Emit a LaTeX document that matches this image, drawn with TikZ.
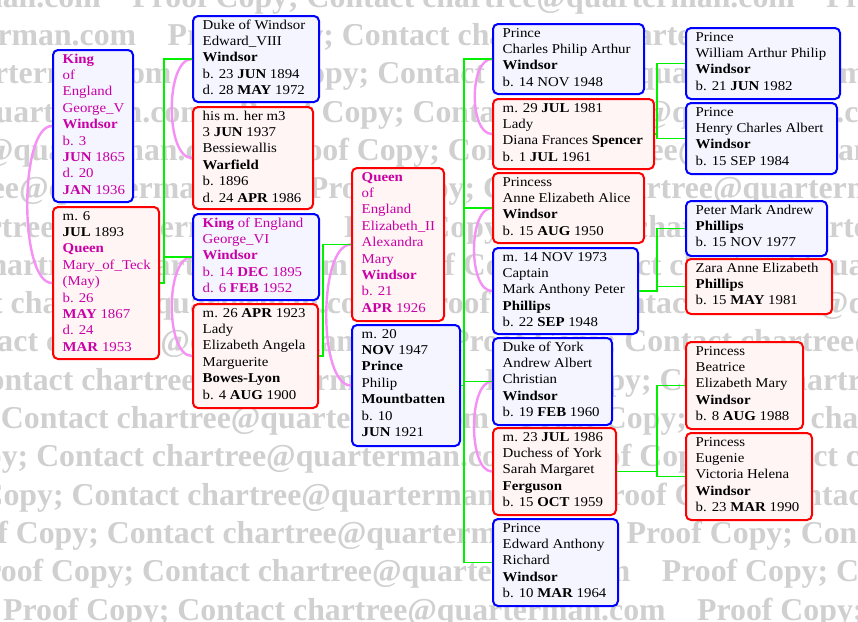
\documentclass[tikz,border=0pt]{standalone}
\usepackage{fontspec}
\setmainfont{Liberation Serif}[FakeStretch=1.1]
\newfontfamily\wmfont{Liberation Serif}
\definecolor{bluec}{RGB}{0,0,255}
\definecolor{bluef}{RGB}{245,245,255}
\definecolor{redc}{RGB}{255,0,0}
\definecolor{redf}{RGB}{255,245,245}
\definecolor{greenc}{RGB}{0,240,0}
\definecolor{pinkc}{RGB}{245,145,245}
\definecolor{magc}{RGB}{200,0,165}
\definecolor{wmgray}{RGB}{208,208,208}
\newcommand\boxfont{\fontsize{13.5}{16.4}\selectfont}
\newcommand\pbox[7]{%
  \node[#2, minimum width=#5pt, minimum height=#6pt, anchor=north west] (#1) at (#3,#4) {};
  \node[anchor=base west, inner sep=0pt] (#1t) at ([shift={(10.5pt,-14pt)}]#1.north west) {\parbox[t]{180pt}{\boxfont\leavevmode #7}};}
\tikzset{
  bbox/.style={draw=bluec, fill=bluef, line width=2pt, rounded corners=5pt, inner sep=0pt},
  rbox/.style={draw=redc, fill=redf, line width=2pt, rounded corners=5pt, inner sep=0pt},
  gline/.style={draw=greenc, line width=1.4pt},
  pline/.style={draw=pinkc, line width=2.4pt},
  wm/.style={text=wmgray, font=\wmfont\bfseries\fontsize{31.8}{38}\selectfont, inner sep=0pt, anchor=base west},
}
\begin{document}
\begin{tikzpicture}[x=1pt,y=-1pt]
\useasboundingbox (0,0) rectangle (858,621);
\fill[white] (0,0) rectangle (858,621);
% watermark
\begin{scope}
\clip (0,0) rectangle (858,621);
\foreach \k in {0,...,16} {
  \pgfmathsetmacro\yy{620-38.3*\k}
  \pgfmathsetmacro\xx{mod(3-35.3*\k+1388,694)}
  \foreach \m in {-1,0,1} {
    \node[wm] (wm\k m\m) at (\xx+694*\m, \yy) {Proof Copy; Contact chartree@quarterman.com};
  }
}
\end{scope}
% boxes
\pbox{k5}{bbox}{52}{49}{80}{152}{\color{magc}\textbf{King}\\of\\England\\George\_V\\\textbf{Windsor}\\b. 3\\\textbf{JUN} 1865\\d. 20\\\textbf{JAN} 1936}
\pbox{qm}{rbox}{52}{206}{106}{152}{m. 6\\\textbf{JUL} 1893\\\color{magc}\textbf{Queen}\\Mary\_of\_Teck\\(May)\\b. 26\\\textbf{MAY} 1867\\d. 24\\\textbf{MAR} 1953}
\pbox{edw}{bbox}{192}{15}{126}{86}{Duke of Windsor\\Edward\_VIII\\\textbf{Windsor}\\b. 23 \textbf{JUN} 1894\\d. 28 \textbf{MAY} 1972}
\pbox{wal}{rbox}{192}{106}{120}{102}{his m. her m3\\3 \textbf{JUN} 1937\\Bessiewallis\\\textbf{Warfield}\\b. 1896\\d. 24 \textbf{APR} 1986}
\pbox{g6}{bbox}{192}{213}{126}{86}{\color{magc}\textbf{King} of England\\George\_VI\\\textbf{Windsor}\\b. 14 \textbf{DEC} 1895\\d. 6 \textbf{FEB} 1952}
\pbox{ebl}{rbox}{192}{303}{125}{104}{m. 26 \textbf{APR} 1923\\Lady\\Elizabeth Angela\\Marguerite\\\textbf{Bowes-Lyon}\\b. 4 \textbf{AUG} 1900}
\pbox{q2}{rbox}{351}{167}{92}{153}{\color{magc}\textbf{Queen}\\of\\England\\Elizabeth\_II\\Alexandra\\Mary\\\textbf{Windsor}\\b. 21\\\textbf{APR} 1926}
\pbox{phi}{bbox}{351}{324}{108}{121}{m. 20\\\textbf{NOV} 1947\\\textbf{Prince}\\Philip\\\textbf{Mountbatten}\\b. 10\\\textbf{JUN} 1921}
\pbox{cha}{bbox}{492}{23}{151}{70}{Prince\\Charles Philip Arthur\\\textbf{Windsor}\\b. 14 NOV 1948}
\pbox{dia}{rbox}{492}{98}{161}{70}{m. 29 \textbf{JUL} 1981\\Lady\\Diana Frances \textbf{Spencer}\\b. 1 \textbf{JUL} 1961}
\pbox{ann}{rbox}{492}{172}{151}{70}{Princess\\Anne Elizabeth Alice\\\textbf{Windsor}\\b. 15 \textbf{AUG} 1950}
\pbox{mar}{bbox}{492}{247}{145}{86}{m. 14 NOV 1973\\Captain\\Mark Anthony Peter\\\textbf{Phillips}\\b. 22 \textbf{SEP} 1948}
\pbox{andr}{bbox}{492}{337}{119}{87}{Duke of York\\Andrew Albert\\Christian\\\textbf{Windsor}\\b. 19 \textbf{FEB} 1960}
\pbox{sar}{rbox}{492}{427}{123}{87}{m. 23 \textbf{JUL} 1986\\Duchess of York\\Sarah Margaret\\\textbf{Ferguson}\\b. 15 \textbf{OCT} 1959}
\pbox{edd}{bbox}{492}{518}{125}{87}{Prince\\Edward Anthony\\Richard\\\textbf{Windsor}\\b. 10 \textbf{MAR} 1964}
\pbox{wil}{bbox}{685}{27}{154}{71}{Prince\\William Arthur Philip\\\textbf{Windsor}\\b. 21 \textbf{JUN} 1982}
\pbox{har}{bbox}{685}{102}{151}{71}{Prince\\Henry Charles Albert\\\textbf{Windsor}\\b. 15 SEP 1984}
\pbox{pet}{bbox}{685}{200}{141}{55}{Peter Mark Andrew\\\textbf{Phillips}\\b. 15 NOV 1977}
\pbox{zar}{rbox}{685}{258}{146}{55}{Zara Anne Elizabeth\\\textbf{Phillips}\\b. 15 \textbf{MAY} 1981}
\pbox{bea}{rbox}{685}{341}{117}{87}{Princess\\Beatrice\\Elizabeth Mary\\\textbf{Windsor}\\b. 8 \textbf{AUG} 1988}
\pbox{eug}{rbox}{685}{432}{126}{87}{Princess\\Eugenie\\Victoria Helena\\\textbf{Windsor}\\b. 23 \textbf{MAR} 1990}
% spouse connectors
\draw[pline] (k5.west) .. controls +(-33pt,0pt) and +(-33pt,0pt) .. (qm.west);
\draw[pline] (edw.west) .. controls +(-27pt,0pt) and +(-27pt,0pt) .. (wal.west);
\draw[pline] (g6.west) .. controls +(-27pt,0pt) and +(-27pt,0pt) .. (ebl.west);
\draw[pline] (q2.west) .. controls +(-33pt,0pt) and +(-33pt,0pt) .. (phi.west);
\draw[pline] (cha.west) .. controls +(-23pt,0pt) and +(-23pt,0pt) .. (dia.west);
\draw[pline] (ann.west) .. controls +(-24pt,0pt) and +(-24pt,0pt) .. (mar.west);
\draw[pline] (andr.west) .. controls +(-24pt,0pt) and +(-24pt,0pt) .. (sar.west);
% child connectors
\foreach \c in {edw,g6} {\draw[gline] (qm.east) -| ([xshift=-28pt]\c.west) -- (\c.west);}
\draw[gline] (ebl.east) -| ([xshift=-28pt]q2.west) -- (q2.west);
\foreach \c in {cha,ann,andr,edd} {\draw[gline] (phi.east) -| ([xshift=-28pt]\c.west) -- (\c.west);}
\foreach \c in {wil,har} {\draw[gline] (dia.east) -| ([xshift=-28pt]\c.west) -- (\c.west);}
\foreach \c in {pet,zar} {\draw[gline] (mar.east) -| ([xshift=-28pt]\c.west) -- (\c.west);}
\foreach \c in {bea,eug} {\draw[gline] (sar.east) -| ([xshift=-28pt]\c.west) -- (\c.west);}
\end{tikzpicture}
\end{document}
